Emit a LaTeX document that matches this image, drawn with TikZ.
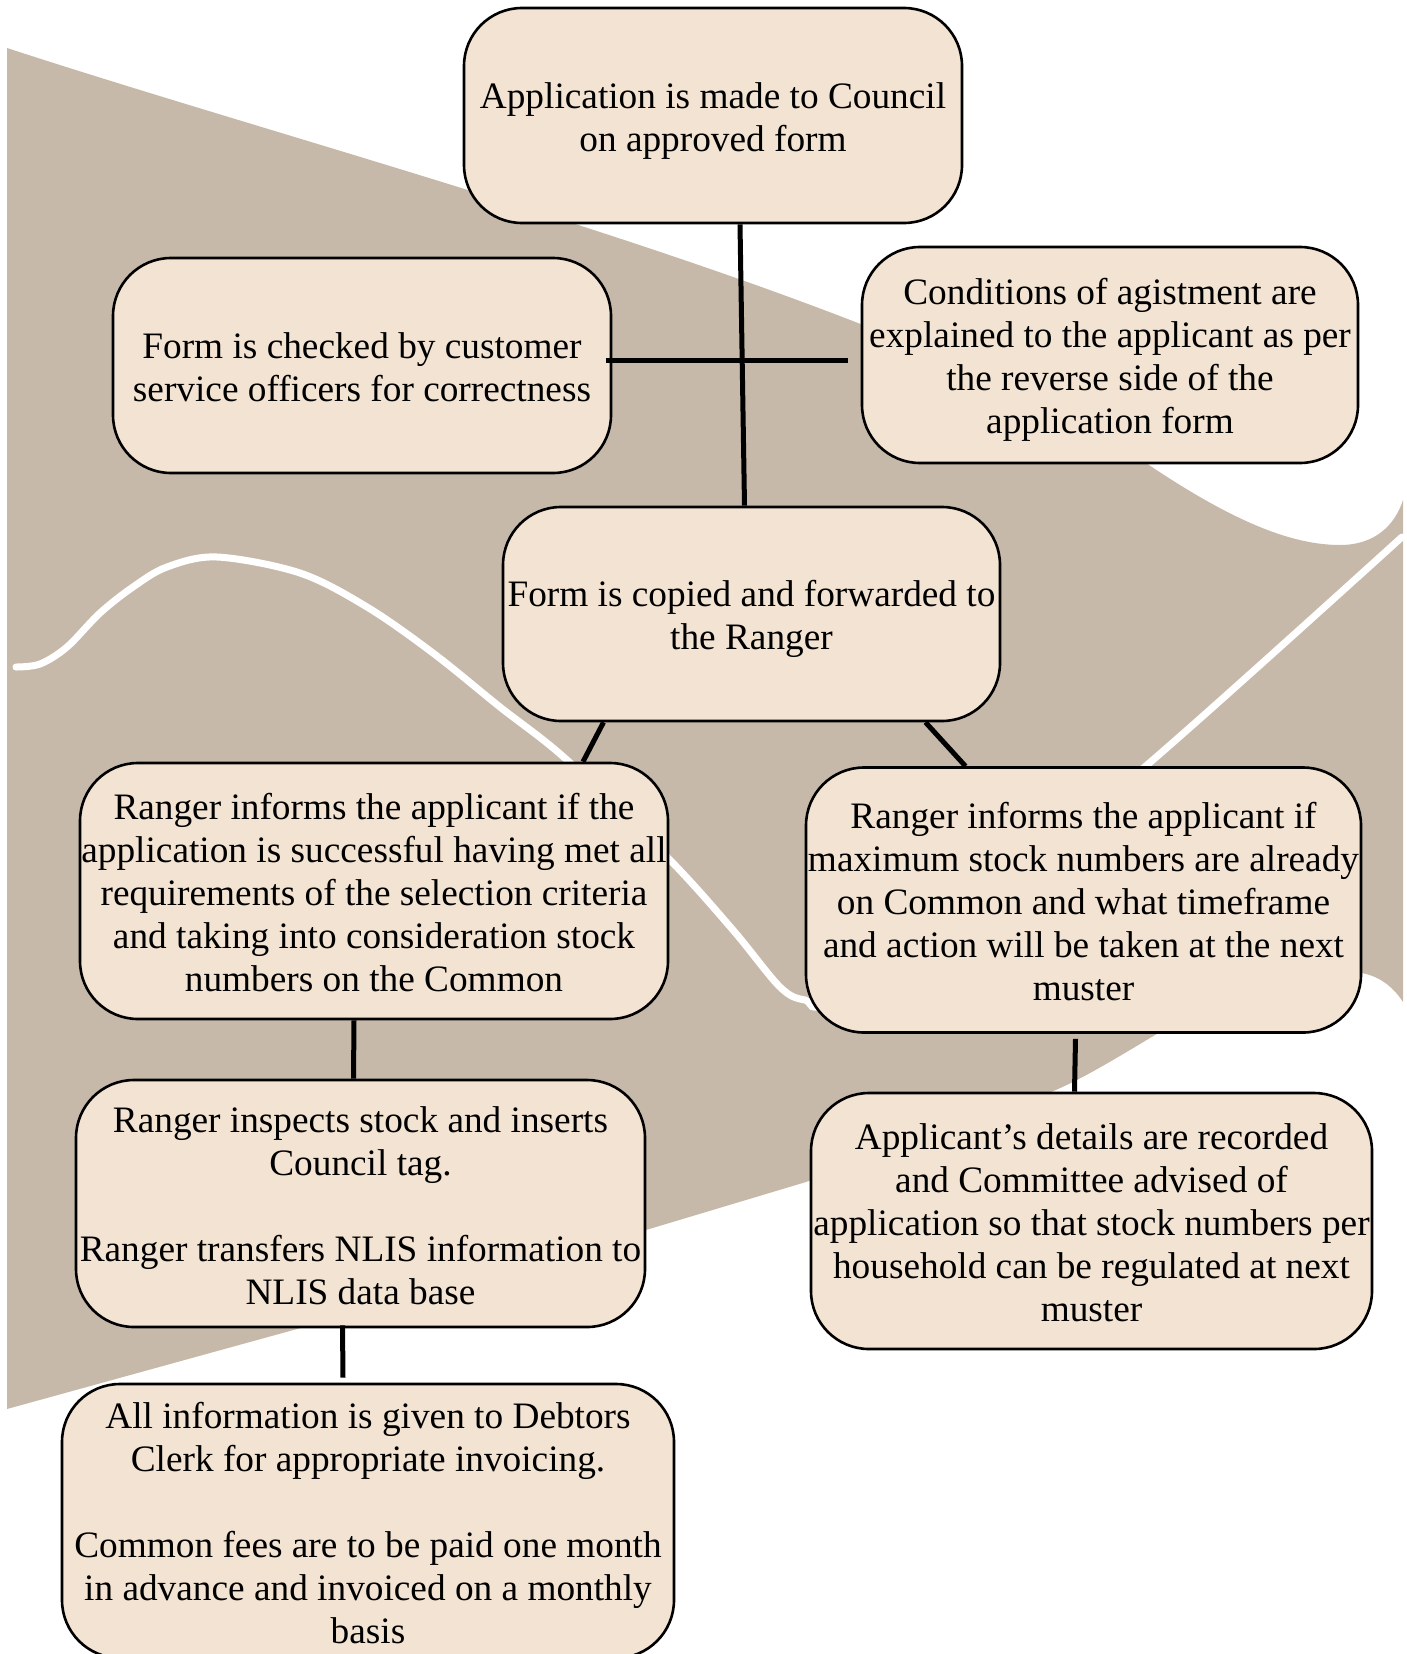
\documentclass[tikz,border=0pt]{standalone}
\usepackage{fontspec}
\setmainfont{Liberation Serif}
\definecolor{taupe}{RGB}{198,185,169}
\definecolor{boxfill}{RGB}{242,227,210}
\newcommand\topstrut{\rule{0pt}{36.4pt}}
\newcommand\botstrut{\rule[-6.6pt]{0pt}{6.6pt}}
\begin{document}
\begin{tikzpicture}[x=1pt,y=-1pt,
  stepbox/.style={draw=black, line width=2.6pt, fill=boxfill, rounded corners=58pt,
    inner sep=0pt, align=center, font=\fontsize{37.3}{43}\selectfont},
  conn/.style={line width=5pt, draw=black},
  wave/.style={draw=white, line width=7pt, line cap=round}]
\useasboundingbox (0,0) rectangle (1407,1654);
\clip (0,0) rectangle (1407,1654);
% background shape
\fill[taupe] (7,48) .. controls (350,160) and (900,300) .. (1143,461)
  .. controls (1230,520) and (1290,545) .. (1340,545)
  .. controls (1375,545) and (1395,525) .. (1403,500)
  -- (1403,1002)
  .. controls (1392,985) and (1375,972) .. (1350,972)
  .. controls (1300,972) and (1200,1008) .. (1150,1038)
  .. controls (1110,1062) and (1080,1080) .. (1051,1092)
  -- (806,1182) -- (646,1230) -- (297,1329) -- (7,1409) -- cycle;
% white wave line
\draw[wave] plot[smooth, tension=0.55] coordinates {(16,667) (40,664) (67,647) (100,613) (133,587) (167,567) (217,557) (300,573) (367,607) (433,653) (500,707) (567,760) (670,860) (733,930) (780,987) (805,1000) (835,998) (1000,880) (1147,765) (1402,537)};
% boxes
\node[stepbox, minimum width=498pt, minimum height=215pt] (app) at (713,115.5) {\topstrut Application is made to Council\\on approved form\botstrut};
\node[stepbox, minimum width=498pt, minimum height=215pt] (check) at (362,365.5) {\topstrut Form is checked by customer\\service officers for correctness\botstrut};
\node[stepbox, minimum width=496pt, minimum height=216pt] (cond) at (1110,355) {\topstrut Conditions of agistment are\\explained to the applicant as per\\the reverse side of the\\application form\botstrut};
\node[stepbox, minimum width=497pt, minimum height=214pt] (copied) at (751.5,614) {\topstrut Form is copied and forwarded to\\the Ranger\botstrut};
\node[stepbox, minimum width=588pt, minimum height=256pt] (success) at (374,891) {\topstrut Ranger informs the applicant if the\\application is successful having met all\\requirements of the selection criteria\\and taking into consideration stock\\numbers on the Common\botstrut};
\node[stepbox, minimum width=555pt, minimum height=265pt] (max) at (1083.5,900) {\topstrut Ranger informs the applicant if\\maximum stock numbers are already\\on Common and what timeframe\\and action will be taken at the next\\muster\botstrut};
\node[stepbox, minimum width=569pt, minimum height=247pt] (inspect) at (360.5,1203.5) {\topstrut Ranger inspects stock and inserts\\Council tag.\\[43pt]Ranger transfers NLIS information to\\NLIS data base\botstrut};
\node[stepbox, minimum width=561pt, minimum height=256pt] (applic) at (1091.5,1221) {\topstrut Applicant’s details are recorded\\and Committee advised of\\application so that stock numbers per\\household can be regulated at next\\muster\botstrut};
\node[stepbox, minimum width=612pt, minimum height=274pt] (all) at (368,1521) {\topstrut All information is given to Debtors\\Clerk for appropriate invoicing.\\[43pt]Common fees are to be paid one month\\in advance and invoiced on a monthly\\basis\botstrut};
% connectors
\draw[conn] ([xshift=27pt]app.south) -- ([xshift=-7pt]copied.north);
\draw[conn] ([xshift=-6pt,yshift=5.5pt]check.east) -- ([xshift=-13pt,yshift=-5pt]cond.west);
\draw[conn] ([xshift=-148pt]copied.south) -- ([xshift=209pt]success.north);
\draw[conn] ([xshift=174pt]copied.south) -- ([xshift=-118pt]max.north);
\draw[conn] ([xshift=-20pt]success.south) -- ([xshift=-7pt]inspect.north);
\draw[conn] ([xshift=-8pt,yshift=-5pt]max.south) -- ([xshift=-17pt]applic.north);
\draw[conn] ([xshift=-18pt,yshift=3pt]inspect.south) -- ([xshift=-25pt,yshift=5pt]all.north);
\end{tikzpicture}
\end{document}
